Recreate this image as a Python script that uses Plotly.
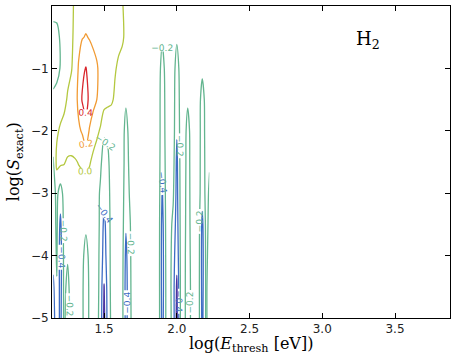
import plotly.graph_objects as go

# grid of log(E_thresh) columns and log(S_exact) rows
log_e = [round(1.15 + 0.025 * i, 3) for i in range(44)]
log_s = [0.0, -0.5, -1.0, -1.5, -2.0, -2.5, -3.0, -3.5, -4.0, -4.5, -5.0]

# relative error values, one row per log_s (top to bottom)
rel_err = [
    [-0.12, -0.14, -0.12, -0.10, -0.08, -0.04, 0.03, 0.07, 0.10, 0.12, 0.12, 0.11, 0.10, 0.08, 0.07, 0.06, 0.05, 0.04, 0.03, 0.01, -0.04, -0.08,
     -0.10, -0.10, -0.10, -0.10, -0.10, -0.10, -0.10, -0.10, -0.12, -0.10, -0.10, -0.10, -0.12, -0.10, -0.10, -0.10, -0.10, -0.10, -0.10, -0.10, -0.10, -0.10],
    [-0.28, -0.25, -0.18, -0.12, -0.08, -0.03, 0.04, 0.14, 0.19, 0.21, 0.19, 0.17, 0.14, 0.10, 0.08, 0.06, 0.05, 0.04, 0.03, 0.02, -0.03, -0.08,
     -0.10, -0.10, -0.10, -0.10, -0.10, -0.10, -0.10, -0.10, -0.17, -0.10, -0.10, -0.10, -0.17, -0.10, -0.10, -0.10, -0.10, -0.10, -0.10, -0.10, -0.10, -0.10],
    [-0.30, -0.26, -0.19, -0.12, -0.05, -0.01, 0.06, 0.22, 0.35, 0.41, 0.30, 0.25, 0.22, 0.15, 0.10, 0.07, 0.05, 0.01, -0.02, -0.05, -0.10, -0.10,
     -0.10, -0.10, -0.10, -0.10, -0.10, -0.10, -0.10, -0.10, -0.30, -0.12, -0.10, -0.10, -0.30, -0.12, -0.10, -0.12, -0.10, -0.10, -0.10, -0.15, -0.10, -0.10],
    [-0.15, -0.13, -0.10, -0.05, 0.02, 0.06, 0.12, 0.25, 0.42, 0.48, 0.35, 0.26, 0.20, 0.12, 0.08, 0.05, 0.02, -0.02, -0.06, -0.10, -0.17, -0.10,
     -0.10, -0.10, -0.10, -0.10, -0.10, -0.10, -0.10, -0.10, -0.35, -0.13, -0.10, -0.10, -0.35, -0.13, -0.10, -0.17, -0.10, -0.10, -0.10, -0.30, -0.12, -0.10],
    [-0.10, -0.03, 0.03, 0.06, 0.10, 0.12, 0.15, 0.17, 0.22, 0.32, 0.18, 0.10, 0.04, -0.02, -0.17, -0.16, -0.10, -0.10, -0.10, -0.10, -0.28, -0.13,
     -0.10, -0.10, -0.10, -0.10, -0.10, -0.10, -0.10, -0.10, -0.35, -0.14, -0.10, -0.10, -0.38, -0.14, -0.10, -0.28, -0.12, -0.10, -0.10, -0.32, -0.13, -0.15],
    [-0.22, 0.05, 0.04, 0.01, -0.02, -0.03, -0.02, 0.01, 0.04, 0.08, 0.02, -0.05, -0.10, -0.16, -0.30, -0.24, -0.12, -0.10, -0.10, -0.10, -0.30, -0.16,
     -0.10, -0.10, -0.10, -0.10, -0.10, -0.10, -0.10, -0.10, -0.38, -0.15, -0.10, -0.12, -0.45, -0.15, -0.10, -0.30, -0.12, -0.10, -0.10, -0.33, -0.14, -0.19],
    [-0.28, -0.15, -0.30, -0.12, -0.12, -0.10, -0.10, -0.10, -0.12, -0.14, -0.12, -0.10, -0.12, -0.23, -0.35, -0.28, -0.13, -0.10, -0.10, -0.12, -0.32, -0.19,
     -0.10, -0.10, -0.10, -0.10, -0.10, -0.10, -0.10, -0.10, -0.42, -0.16, -0.11, -0.17, -0.47, -0.16, -0.12, -0.30, -0.13, -0.10, -0.11, -0.33, -0.15, -0.22],
    [-0.30, -0.16, -0.45, -0.13, -0.15, -0.10, -0.10, -0.11, -0.14, -0.17, -0.14, -0.10, -0.12, -0.24, -0.45, -0.30, -0.14, -0.10, -0.10, -0.12, -0.38, -0.23,
     -0.10, -0.10, -0.10, -0.10, -0.10, -0.10, -0.10, -0.10, -0.48, -0.17, -0.12, -0.25, -0.50, -0.17, -0.13, -0.30, -0.14, -0.10, -0.12, -0.45, -0.16, -0.23],
    [-0.32, -0.18, -0.50, -0.14, -0.18, -0.10, -0.10, -0.12, -0.16, -0.26, -0.16, -0.10, -0.13, -0.25, -0.50, -0.30, -0.15, -0.10, -0.11, -0.13, -0.45, -0.25,
     -0.10, -0.10, -0.10, -0.10, -0.10, -0.10, -0.10, -0.10, -0.50, -0.18, -0.12, -0.30, -0.55, -0.18, -0.14, -0.31, -0.15, -0.10, -0.12, -0.48, -0.17, -0.24],
    [-0.45, -0.21, -0.48, -0.15, -0.25, -0.11, -0.10, -0.12, -0.17, -0.30, -0.17, -0.10, -0.13, -0.26, -0.61, -0.32, -0.15, -0.10, -0.11, -0.14, -0.48, -0.26,
     -0.10, -0.10, -0.10, -0.10, -0.10, -0.10, -0.10, -0.10, -0.50, -0.19, -0.12, -0.32, -0.63, -0.19, -0.14, -0.32, -0.16, -0.10, -0.13, -0.47, -0.18, -0.25],
    [-0.50, -0.25, -0.46, -0.16, -0.30, -0.11, -0.10, -0.12, -0.17, -0.30, -0.17, -0.10, -0.14, -0.27, -0.65, -0.33, -0.16, -0.10, -0.11, -0.14, -0.47, -0.27,
     -0.10, -0.10, -0.10, -0.10, -0.10, -0.10, -0.10, -0.10, -0.48, -0.19, -0.12, -0.30, -0.66, -0.19, -0.14, -0.32, -0.16, -0.10, -0.13, -0.45, -0.18, -0.25],
]

levels = [-0.6, -0.4, -0.2, 0.0, 0.2, 0.4]
level_colors = ["#4b34a0", "#3d6cc4", "#63b58f", "#b4c840", "#f19b34", "#d9262d"]

fig = go.Figure()

# one contour trace per level so each gets its own colour
for lvl, col in zip(levels, level_colors):
    fig.add_trace(go.Contour(
        x=log_e, y=log_s[::-1], z=rel_err[::-1],
        autocontour=False,
        contours=dict(start=lvl, end=lvl, size=0.2, coloring='lines',
                      showlabels=True, labelformat='.1f',
                      labelfont=dict(size=9, family='DejaVu Sans', color=col)),
        colorscale=[[0, col], [1, col]],
        line=dict(width=1.3, smoothing=0.8),
        showscale=False, hoverinfo='skip'
    ))

serif = dict(family='DejaVu Serif', size=16, color='black')
fig.add_annotation(x=0.83, y=0.935, xref='paper', yref='paper', text='H<sub>2</sub>',
                   showarrow=False, font=dict(family='DejaVu Serif', size=18, color='black'))
fig.add_annotation(x=0.5, y=-0.085, xref='paper', yref='paper', yanchor='middle',
                   text='log(<i>E</i><sub>thresh</sub> [eV])', showarrow=False, font=serif)
fig.add_annotation(x=-0.095, y=0.5, xref='paper', yref='paper', xanchor='center', textangle=-90,
                   text='log(<i>S</i><sub>exact</sub>)', showarrow=False, font=serif)

axis_style = dict(showgrid=False, zeroline=False, showline=True, linecolor='black', linewidth=1,
                  mirror='ticks', ticks='inside', ticklen=5, tickcolor='black', automargin=False,
                  tickfont=dict(family='DejaVu Sans', size=12, color='#222'))

fig.update_layout(
    width=458, height=362,
    paper_bgcolor='white', plot_bgcolor='white',
    margin=dict(l=52, r=8, t=6, b=44),
    showlegend=False,
    xaxis=dict(range=[1.142, 3.878], tickvals=[1.5, 2.0, 2.5, 3.0, 3.5], ticktext=['1.5', '2.0', '2.5', '3.0', '3.5'],
               **axis_style),
    yaxis=dict(range=[-5, 0], tickvals=[-5, -4, -3, -2, -1], **axis_style),
)

# drop the browser's default page margin so the figure sits at the window corner
fig.write_html("out.html", config={'displayModeBar': False},
               post_script="document.body.style.margin='0';")
